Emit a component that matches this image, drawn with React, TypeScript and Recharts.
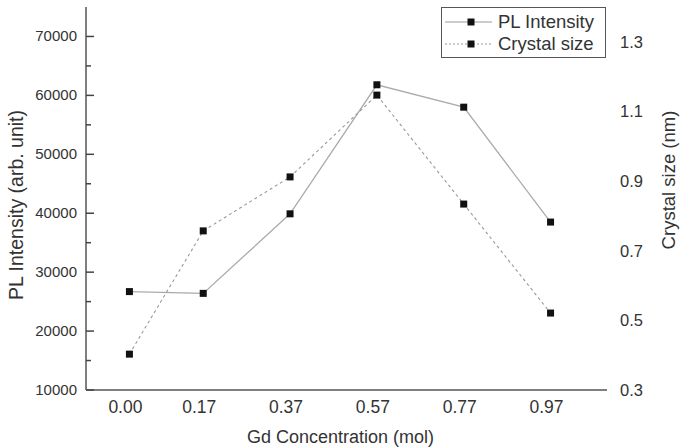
import { LineChart, Line, XAxis, YAxis, Legend, Label } from "recharts";

// Gd concentration (mol) and the two measured series
const concentration = [0, 0.17, 0.37, 0.57, 0.77, 0.97];
const plIntensity = [26700, 26400, 39900, 61800, 58000, 38500];
const crystalSize = [0.403, 0.757, 0.912, 1.147, 0.834, 0.521];

const xTicks = [0, 0.17, 0.37, 0.57, 0.77, 0.97];
const plTicks = [10000, 15000, 20000, 25000, 30000, 35000, 40000, 45000, 50000, 55000, 60000, 65000, 70000];
const crystalTicks = [0.3, 0.5, 0.7, 0.9, 1.1, 1.3];

const rows = concentration.map((c, i) => ({
  x: c,
  pl: plIntensity[i],
  cs: crystalSize[i],
}));

const FONT = "'Liberation Sans', Arial, sans-serif";
const TEXT = "#333";
const AXIS = "#555";

const SquareDot = (props: any) => {
  const { cx, cy } = props;
  if (cx == null || cy == null) return null;
  return <rect x={cx - 3.5} y={cy - 3.5} width={7} height={7} fill="#111" />;
};

const XTick = (props: any) => {
  const { x, y, payload } = props;
  return (
    <text x={x - 4} y={y + 23} textAnchor="middle" fontSize={17.5} fill={TEXT} fontFamily={FONT}>
      {Number(payload.value).toFixed(2)}
    </text>
  );
};

const LeftTick = (props: any) => {
  const { x, y, payload } = props;
  const major = payload.value % 10000 === 0;
  return (
    <g>
      <line x1={x} x2={x + (major ? 8 : 5)} y1={y} y2={y} stroke="#444" strokeWidth={1.5} />
      {major && (
        <text x={x - 9} y={y + 5} textAnchor="end" fontSize={15} fill={TEXT} fontFamily={FONT}>
          {payload.value}
        </text>
      )}
    </g>
  );
};

const RightMark = (props: any) => {
  const { x, y, payload } = props;
  const major = payload.value % 10000 === 0;
  return <line x1={x - (major ? 8 : 5)} x2={x} y1={y} y2={y} stroke="#444" strokeWidth={1.5} />;
};

const RightTick = (props: any) => {
  const { x, y, payload } = props;
  return (
    <text x={x + 13} y={y + 6} textAnchor="start" fontSize={16.5} fill={TEXT} fontFamily={FONT}>
      {Number(payload.value).toFixed(1)}
    </text>
  );
};

const XTitle = (props: any) => {
  const { viewBox } = props;
  const cx = viewBox.x + viewBox.width / 2 - 6;
  return (
    <text x={cx} y={viewBox.y + 53} textAnchor="middle" fontSize={18} fill={TEXT} fontFamily={FONT}>
      Gd Concentration (mol)
    </text>
  );
};

const LeftTitle = (props: any) => {
  const { viewBox } = props;
  const x = viewBox.x + 16;
  const y = 205;
  return (
    <text
      x={x}
      y={y}
      transform={`rotate(-90, ${x}, ${y})`}
      textAnchor="middle"
      dominantBaseline="central"
      fontSize={19.5}
      fill={TEXT}
      fontFamily={FONT}>
      PL Intensity (arb. unit)
    </text>
  );
};

const RightTitle = (props: any) => {
  const { viewBox } = props;
  const x = viewBox.x + 61;
  const y = 180;
  return (
    <text
      x={x}
      y={y}
      transform={`rotate(-90, ${x}, ${y})`}
      textAnchor="middle"
      dominantBaseline="central"
      fontSize={18.5}
      fill={TEXT}
      fontFamily={FONT}>
      Crystal size (nm)
    </text>
  );
};

const LegendBox = () => {
  const items = [
    { name: "PL Intensity", dash: undefined as string | undefined },
    { name: "Crystal size", dash: "2 2" },
  ];
  return (
    <div
      style={{
        width: 165,
        height: 51,
        border: `1.5px solid ${AXIS}`,
        boxSizing: "border-box",
        background: "#fff",
        fontFamily: FONT,
        fontSize: 18.5,
        color: TEXT,
        paddingTop: 3,
      }}>
      {items.map((it) => (
        <div key={it.name} style={{ display: "flex", alignItems: "center", height: 22 }}>
          <svg width={56} height={14} style={{ flex: "none" }}>
            <line x1={3} x2={50} y1={7} y2={7} stroke="#999" strokeWidth={1} strokeDasharray={it.dash} />
            <rect x={25.5} y={3.5} width={7} height={7} fill="#111" />
          </svg>
          <span style={{ lineHeight: "22px" }}>{it.name}</span>
        </div>
      ))}
    </div>
  );
};

export default function App() {
  return (
    <div style={{ position: "absolute", left: 0, top: 0, width: 681, height: 447, background: "#fff" }}>
      <LineChart width={681} height={447} data={rows} margin={{ top: 7, right: 0, bottom: 0, left: 0 }}>
        <XAxis
          dataKey="x"
          type="number"
          domain={[-0.1, 1.1]}
          ticks={xTicks}
          interval={0}
          height={57}
          tickSize={0}
          tickMargin={0}
          tickLine={false}
          tick={XTick}
          axisLine={{ stroke: AXIS, strokeWidth: 1.5 }}
          allowDataOverflow>
          <Label content={XTitle} />
        </XAxis>
        <XAxis
          xAxisId="top"
          orientation="top"
          type="number"
          domain={[-0.1, 1.1]}
          height={0}
          tick={false}
          tickLine={false}
          axisLine={{ stroke: AXIS, strokeWidth: 1.5 }}
          allowDataOverflow
        />
        <YAxis
          yAxisId="pl"
          domain={[10000, 75000]}
          ticks={plTicks}
          interval={0}
          width={86}
          tickSize={0}
          tickMargin={0}
          tickLine={false}
          tick={LeftTick}
          axisLine={{ stroke: AXIS, strokeWidth: 1.5 }}
          allowDataOverflow>
          <Label content={LeftTitle} />
        </YAxis>
        <YAxis
          yAxisId="rt"
          orientation="right"
          domain={[10000, 75000]}
          ticks={plTicks}
          interval={0}
          width={0}
          tickSize={0}
          tickMargin={0}
          tickLine={false}
          tick={RightMark}
          axisLine={{ stroke: AXIS, strokeWidth: 1.5 }}
          allowDataOverflow
        />
        <YAxis
          yAxisId="cs"
          orientation="right"
          domain={[0.3, 1.4]}
          ticks={crystalTicks}
          interval={0}
          width={74}
          tickSize={0}
          tickMargin={0}
          tickLine={false}
          tick={RightTick}
          axisLine={false}
          allowDataOverflow>
          <Label content={RightTitle} />
        </YAxis>
        <Legend
          layout="horizontal"
          verticalAlign="middle"
          align="center"
          content={LegendBox}
          wrapperStyle={{ top: 7, left: 441, width: 165, height: 51 }}
        />
        <Line
          yAxisId="pl"
          dataKey="pl"
          name="PL Intensity"
          stroke="#aaa"
          strokeWidth={1.3}
          dot={SquareDot}
          activeDot={false}
          isAnimationActive={false}
        />
        <Line
          yAxisId="cs"
          dataKey="cs"
          name="Crystal size"
          stroke="#999"
          strokeWidth={1.1}
          strokeDasharray="3 3"
          dot={SquareDot}
          activeDot={false}
          isAnimationActive={false}
        />
      </LineChart>
    </div>
  );
}
